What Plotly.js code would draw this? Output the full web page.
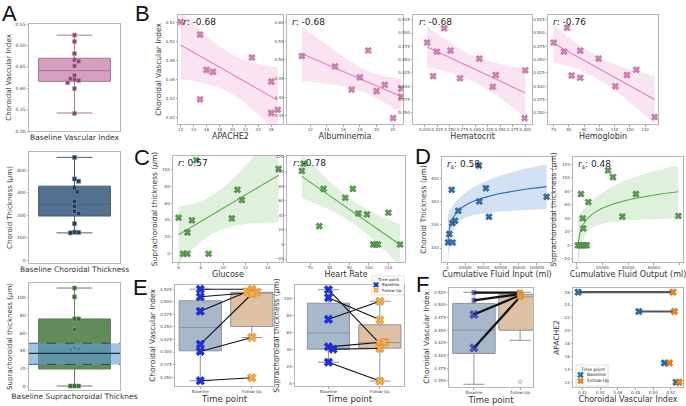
<!DOCTYPE html>
<html><head><meta charset="utf-8">
<script src="https://cdn.plot.ly/plotly-3.0.1.min.js"></script>
<style>html,body{margin:0;padding:0;background:#fff}#chart{width:686px;height:406px}</style>
</head><body><div id="chart"></div>
<script>
// ================= DATA =================
// Panel A
const cviBaseline = [0.524,0.509,0.481,0.466,0.463,0.452,0.430,0.420,0.418,0.422,0.413,0.399,0.341];
const cviBoxStats = [0.416,0.441,0.470,0.342,0.524];          // q1, median, q3, lower, upper
const choroidBaseline = [458,362,352,322,305,262,240,218,208,163,125,124,122];
const choroidBoxStats = [197,249,330,122,458];
const supraBaseline = [111,101,76,76,64,43,42,41,25,0,0,0];
const supraBoxStats = [19.3,40,76,0,111];
const supraRefBand = [24.5,37,48.5];                          // low, median, high
// Panel B
const apache = [12,15,16,17,15,23,26,26,27];
const cviApache = [0.5207,0.5073,0.470,0.468,0.439,0.483,0.4577,0.4246,0.428];
const albumin = [11,15,18,17,19,20,21,23,23,22];
const cviAlbumin = [0.510,0.482,0.453,0.420,0.525,0.416,0.433,0.423,0.401,0.344];
const hematocrit = [0.2047,0.2387,0.224,0.2513,0.2167,0.270,0.3087,0.3413,0.3353,0.400,0.3987];
const cviHematocrit = [0.482,0.509,0.465,0.467,0.419,0.415,0.452,0.421,0.399,0.430,0.340];
const hemoglobin = [70,78.8,76.8,87.5,81.8,87.5,99.5,110.5,118.1,124.3,136.3];
const cviHemoglobin = [0.482,0.510,0.465,0.467,0.420,0.416,0.452,0.400,0.421,0.431,0.342];
// Panel C
const glucose = [6.0,6.4,6.8,6.8,7.2,7.6,8.7,10.8,11.3,11.7,15.0];
const supraGlucose = [42.8,0,0,25.3,39.7,111,0,42,75.9,63.8,100.8];
const heartRate = [65.7,66.6,74.6,76.8,87.9,91.8,94.7,99,102.2,103.5,104.7,110,116];
const supraHeartRate = [100.9,110.8,25.2,76.2,64,76.2,42.5,41.2,0,0,0,43.6,0];
// Panel D
const fluidInput = [800,2200,4900,5600,6000,8600,12300,35400,35800,43200,46600,111000];
const choroidFluidIn = [124,160,350,207,124,217,260,454,300,357,234,320];
const fluidOutput = [800,2600,4400,6500,7800,3300,4700,5100,9000,24400,28200,35500,46100,79100];
const supraFluidOut = [0,0,0,0,0,76,40,25,64,111,101,42.5,76,43.5];
// Panel E
const eCviBase = [0.525,0.510,0.481,0.4155,0.4013,0.343];
const eCviFollow = [0.525,0.519,0.520,0.5155,0.429,0.349];
const eCviBoxQ1 = [0.4025,0.451], eCviBoxMed = [0.449,0.517], eCviBoxQ3 = [0.502,0.519];
const eCviBoxLo = [0.343,0.429], eCviBoxHi = [0.525,0.525];
const eSupraBase = [111,101.5,76,43.5,40.8,25.4];
const eSupraFollow = [47.3,75.4,97.3,49.2,41.5,3.1];
const eSupraBoxQ1 = [40.8,42], eSupraBoxMed = [60,48.5], eSupraBoxQ3 = [95,69.5];
const eSupraBoxLo = [25.4,3.1], eSupraBoxHi = [111,97.3];
// Panel F
const fCviBase = [0.5245,0.509,0.481,0.415];
const fCviFollow = [0.5245,0.5215,0.519,0.516];
const fCviBoxQ1 = [0.404,0.450], fCviBoxMed = [0.450,0.516], fCviBoxQ3 = [0.503,0.521];
const fCviBoxLo = [0.343,0.430], fCviBoxHi = [0.525,0.525];
const fCviOutlier = [0.348];
const fApache = [26,23,15,12];
const fApacheCviBase = [0.4151,0.4837,0.5125,0.5258];
const fApacheCviFollow = [0.5223,0.5239,0.5182,0.5292];
const timeLabels = ['Baseline','Follow-Up'];
const rLabels = ['<i>r</i>: -0.68','<i>r</i>: -0.68','<i>r</i>: -0.68','<i>r</i>: -0.76','<i>r</i>: 0.57','<i>r</i>: -0.78','<i>r</i><sub>s</sub>: 0.58','<i>r</i><sub>s</sub>: 0.48'];

// ================= LAYOUT HELPERS =================
const W=686,H=406, FONT='DejaVu Sans';
const boxes = {1:[29,24,120,131],2:[29,152,120,263],3:[29,283,120,390],
 4:[178,15,283,124],5:[287,15,403,124],6:[413,15,532,124],7:[548,15,658,124],
 8:[173,156,283,262],9:[287,156,405,262],10:[442,157,552,262],11:[573,157,683,262],
 12:[175,285,274,386],13:[295,285,404,386],14:[449,288,533,387],15:[573,288,683,387]};
const sfx = i => i===1?'':String(i);
const layout = {width:W,height:H,margin:{l:0,r:0,t:0,b:0},paper_bgcolor:'#fff',plot_bgcolor:'#fff',
  showlegend:false,font:{family:FONT,color:'#333'},annotations:[],shapes:[]};
function ttl(text,size,standoff){return {text:text,font:{family:FONT,size:size,color:'#333'},standoff:standoff};}
function setAxes(i,xo,yo){
  const b=boxes[i];
  const base={showline:true,mirror:true,linecolor:'#b5b5b5',linewidth:1,ticks:'outside',ticklen:1.5,
    tickwidth:0.6,tickcolor:'#666',showgrid:false,zeroline:false,fixedrange:true,tickangle:0,
    tickfont:{family:FONT,size:4,color:'#444'}};
  layout['xaxis'+sfx(i)]=Object.assign({},base,{domain:[b[0]/W,b[2]/W],anchor:'y'+sfx(i)},xo);
  layout['yaxis'+sfx(i)]=Object.assign({},base,{domain:[1-b[3]/H,1-b[1]/H],anchor:'x'+sfx(i)},yo);
}
function ax(i){return {xaxis:'x'+sfx(i),yaxis:'y'+sfx(i)};}
const traces=[];
function add(i,t){traces.push(Object.assign(t,ax(i),{hoverinfo:'skip'}));}

function tq(df){const t={3:3.182,4:2.776,5:2.571,6:2.447,7:2.365,8:2.306,9:2.262,10:2.228,11:2.201,12:2.179,13:2.16,14:2.145};return t[df]||2.1;}
function fit(xs,ys,logx){
  const X=xs.map(v=>logx?Math.log(v):v), n=xs.length;
  const mx=X.reduce((a,b)=>a+b,0)/n, my=ys.reduce((a,b)=>a+b,0)/n;
  let sxx=0,sxy=0; X.forEach((x,k)=>{sxx+=(x-mx)*(x-mx);sxy+=(x-mx)*(ys[k]-my);});
  const b=sxy/sxx,a=my-b*mx;
  let ss=0; X.forEach((x,k)=>{const r=ys[k]-a-b*x;ss+=r*r;});
  const s=Math.sqrt(ss/(n-2)), t=tq(n-2);
  const lo=Math.min(...X),hi=Math.max(...X), gx=[],yh=[],up=[],dn=[];
  for(let k=0;k<=80;k++){const x=lo+(hi-lo)*k/80;const y=a+b*x;
    const h=t*s*Math.sqrt(1/n+(x-mx)*(x-mx)/sxx);
    gx.push(logx?Math.exp(x):x);yh.push(y);up.push(y+h);dn.push(y-h);}
  return {gx,yh,up,dn};
}
function regPlot(i,xs,ys,logx,c){
  const f=fit(xs,ys,logx);
  add(i,{type:'scatter',mode:'lines',x:f.gx.concat(f.gx.slice().reverse()),y:f.up.concat(f.dn.slice().reverse()),
    fill:'toself',fillcolor:c.band,line:{width:0}});
  add(i,{type:'scatter',mode:'lines',x:f.gx,y:f.yh,line:{color:c.line,width:1.1}});
  add(i,{type:'scatter',mode:'markers',x:xs,y:ys,marker:{symbol:'x',size:5.8,color:c.mk,line:{color:c.mkl,width:0.6}}});
}
function swarm(vals,yr,hpx,xr,wpx,r){
  const sy=hpx/(yr[1]-yr[0]),sx=wpx/(xr[1]-xr[0]),placed=[],out=[];
  vals.forEach(v=>{const yp=v*sy;let xo=0;
    for(let t=0;t<60;t++){const c=t===0?0:((t%2?1:-1)*Math.ceil(t/2)*r*0.6);
      if(placed.every(p=>Math.hypot(p[0]-c,p[1]-yp)>=2*r*0.9)){xo=c;break;}}
    placed.push([xo,yp]);out.push(xo/sx);});
  return out;
}
function boxStat(i,pos,q1,med,q3,lo,hi,width,fill,line){
  add(i,{type:'box',orientation:'v',x:[pos],q1:[q1],median:[med],q3:[q3],lowerfence:[lo],upperfence:[hi],
    width:width,fillcolor:fill,line:{color:line,width:1},whiskerwidth:0.5,boxpoints:false});
}
function note(i,text,size){layout.annotations.push({xref:'x'+sfx(i)+' domain',yref:'y'+sfx(i)+' domain',x:0.03,y:1.0,
  xanchor:'left',yanchor:'top',text:text,showarrow:false,font:{family:FONT,size:size||9,color:'#222'}});}
function letter(t,x,y){layout.annotations.push({xref:'paper',yref:'paper',x:x/W,y:1-y/H,xanchor:'center',yanchor:'middle',
  text:t,showarrow:false,font:{family:'Liberation Sans',size:22,color:'#111'}});}
const range=(a,b,s)=>{const o=[];for(let v=a;v<=b+1e-9;v+=s)o.push(+v.toFixed(6));return o;};

// ================= PANEL A =================
const aRanges=[[0.30,0.55],[-12,482],[-4.5,116.7]];
const aCols=[{fill:'rgba(200,125,170,0.75)',line:'#a57a92',mk:'rgb(140,70,115)',mkl:'#d9a9c7'},
  {fill:'rgb(84,112,145)',line:'#46607a',mk:'rgb(35,58,92)',mkl:'#7f97b2'},
  {fill:'rgb(98,140,92)',line:'#5f7d5a',mk:'rgb(58,105,52)',mkl:'#97bb8f'}];
const aVals=[cviBaseline,choroidBaseline,supraBaseline],aStats=[cviBoxStats,choroidBoxStats,supraBoxStats];
const aX=['Baseline Vascular Index','Baseline Choroidal Thickness','Baseline Suprachoroidal Thicknes'];
const aY=['Choroidal Vascular Index','Choroid Thickness (<i>μ</i>m)','Suprachoroidal thickness (<i>μ</i>m)'];
const aTicks=[{tickvals:range(0.30,0.55,0.05),tickformat:'.2f'},{tickvals:range(0,400,100)},{tickvals:range(0,100,20)}];
for(let k=0;k<3;k++){
  const i=k+1,b=boxes[i],st=aStats[k],c=aCols[k];
  setAxes(i,{range:[-0.5,0.5],showticklabels:false,ticks:'',title:ttl(aX[k],7.5,3)},
    Object.assign({range:aRanges[k],title:ttl(aY[k],7,3),tickfont:{family:FONT,size:4.5,color:'#444'}},aTicks[k]));
  boxStat(i,0,st[0],st[1],st[2],st[3],st[4],0.79,c.fill,c.line);
  const offs=swarm(aVals[k],aRanges[k],b[3]-b[1],[-0.5,0.5],b[2]-b[0],2.3);
  add(i,{type:'scatter',mode:'markers',x:offs,y:aVals[k],marker:{symbol:'square',size:4.2,color:c.mk,line:{color:c.mkl,width:0.5}}});
}
// reference band on A3
layout.shapes.push({type:'rect',xref:'x3 domain',yref:'y3',x0:0,x1:1,y0:supraRefBand[0],y1:supraRefBand[2],
  fillcolor:'rgba(95,155,210,0.6)',line:{width:0},layer:'above'});
[0,2].forEach(j=>layout.shapes.push({type:'line',xref:'x3 domain',yref:'y3',x0:0,x1:1,y0:supraRefBand[j],y1:supraRefBand[j],
  line:{color:'#1d3557',width:0.8,dash:'dash'},layer:'above'}));
layout.shapes.push({type:'line',xref:'x3 domain',yref:'y3',x0:0,x1:1,y0:supraRefBand[1],y1:supraRefBand[1],
  line:{color:'#17304f',width:1.3},layer:'above'});

// ================= PANEL B =================
const pink={band:'rgba(238,165,212,0.3)',line:'rgb(224,128,188)',mk:'rgb(212,128,178)',mkl:'rgb(176,88,146)'};
const green={band:'rgba(150,210,140,0.3)',line:'rgb(92,172,82)',mk:'rgb(88,158,78)',mkl:'rgb(60,120,52)'};
const blue={band:'rgba(110,160,215,0.3)',line:'rgb(40,112,182)',mk:'rgb(50,110,175)',mkl:'rgb(30,75,130)'};
setAxes(4,{range:[11.6,27.8],tickvals:range(12,26,2),title:ttl('APACHE2',8,1)},
  {range:[0.413,0.528],tickvals:range(0.42,0.52,0.02),tickformat:'.2f',title:ttl('Choroidal Vascular Index',7.5,3)});
setAxes(5,{range:[9.2,23.2],tickvals:range(12,22,2),title:ttl('Albuminemia',8,1)},
  {range:[0.328,0.62],tickvals:range(0.35,0.60,0.05),tickformat:'.2f'});
setAxes(6,{range:[0.1767,0.4133],tickvals:range(0.2,0.4,0.025),tickformat:'.3f',title:ttl('Hematocrit',8,1)},
  {range:[0.329,0.534],tickvals:range(0.35,0.525,0.025),tickformat:'.3f'});
setAxes(7,{range:[66.3,138.5],tickvals:range(70,130,10),title:ttl('Hemoglobin',8,1)},
  {range:[0.329,0.534],tickvals:range(0.35,0.525,0.025),tickformat:'.3f'});
regPlot(4,apache,cviApache,false,pink);
regPlot(5,albumin,cviAlbumin,false,pink);
regPlot(6,hematocrit,cviHematocrit,false,pink);
regPlot(7,hemoglobin,cviHemoglobin,false,pink);
[4,5,6,7].forEach((i,k)=>note(i,rLabels[k]));

// ================= PANEL C =================
setAxes(8,{range:[5.5,15.4],tickvals:range(6,14,2),title:ttl('Glucose',8,1)},
  {range:[-9.7,116],tickvals:range(0,100,20),title:ttl('Suprachoroidal thickness (<i>μ</i>m)',7.5,3)});
setAxes(9,{range:[58.1,118.5],tickvals:range(70,110,10),title:ttl('Heart Rate',8,1)},
  {range:[-24,121.3],tickvals:range(-20,120,20)});
regPlot(8,glucose,supraGlucose,false,green);
regPlot(9,heartRate,supraHeartRate,false,green);
note(8,rLabels[4]);note(9,rLabels[5]);

// ================= PANEL D =================
setAxes(10,{range:[-5900,117000],tickvals:range(0,100000,20000),tickformat:'d',title:ttl('Cumulative Fluid Input (ml)',8,1)},
  {range:[40,491],tickvals:range(100,400,100),title:ttl('Choroid Thickness (<i>μ</i>m)',7.5,3)});
setAxes(11,{range:[-2900,82700],tickvals:range(0,80000,20000),tickformat:'d',title:ttl('Cumulative Fluid Output (ml)',8,1)},
  {range:[-24.7,130.8],tickvals:range(-20,120,20),title:ttl('Suprachoroidal thickness (<i>μ</i>m)',7.5,3)});
regPlot(10,fluidInput,choroidFluidIn,true,blue);
regPlot(11,fluidOutput,supraFluidOut,true,green);
note(10,rLabels[6]);note(11,rLabels[7]);

// ================= PANEL E / F (paired) =================
const baseFill='rgb(166,184,202)',follFill='rgb(222,193,164)',boxLine='#8c939a';
const mkBase={symbol:'x',size:7.5,color:'rgb(28,48,232)',line:{color:'rgb(15,25,150)',width:0.6}};
const mkFoll={symbol:'x',size:7.5,color:'rgb(246,172,64)',line:{color:'rgb(200,120,35)',width:0.6}};
function paired(i,base,foll,bx,fx,lw,lc,mb,mf){
  const lx=[],ly=[];
  base.forEach((v,k)=>{lx.push(bx[k],fx[k],null);ly.push(v,foll[k],null);});
  add(i,{type:'scatter',mode:'lines',x:lx,y:ly,line:{color:lc,width:lw}});
  add(i,{type:'scatter',mode:'markers',x:bx,y:base,marker:mb});
  add(i,{type:'scatter',mode:'markers',x:fx,y:foll,marker:mf});
}
const catX={tickvals:[0,1],ticktext:timeLabels,tickfont:{family:FONT,size:4,color:'#444'}};
// E1
const e1xr=[-0.49,1.43],e1yr=[0.3325,0.5334];
setAxes(12,Object.assign({range:e1xr,title:ttl('Time point',8.5,1)},catX),
  {range:e1yr,tickvals:range(0.35,0.525,0.025),tickformat:'.3f',title:ttl('Choroidal Vascular Index',7.5,3)});
for(let k=0;k<2;k++)boxStat(12,k,eCviBoxQ1[k],eCviBoxMed[k],eCviBoxQ3[k],eCviBoxLo[k],eCviBoxHi[k],0.82,k?follFill:baseFill,boxLine);
{const b=boxes[12];const off=swarm(eCviFollow,e1yr,b[3]-b[1],e1xr,b[2]-b[0],2.6);
 paired(12,eCviBase,eCviFollow,eCviBase.map(()=>0),off.map(o=>1+o),1.1,'#111',mkBase,mkFoll);}
// E2
const e2xr=[-0.65,1.47],e2yr=[-2.7,116.5];
setAxes(13,Object.assign({range:e2xr,title:ttl('Time point',8.5,1)},catX),
  {range:e2yr,tickvals:range(0,100,20),title:ttl('Suprachoroidal thickness (<i>μ</i>m)',7.5,3)});
for(let k=0;k<2;k++)boxStat(13,k,eSupraBoxQ1[k],eSupraBoxMed[k],eSupraBoxQ3[k],eSupraBoxLo[k],eSupraBoxHi[k],0.82,k?follFill:baseFill,boxLine);
{const b=boxes[13];const offB=swarm(eSupraBase,e2yr,b[3]-b[1],e2xr,b[2]-b[0],2.6);
 const offF=swarm(eSupraFollow,e2yr,b[3]-b[1],e2xr,b[2]-b[0],2.6);
 paired(13,eSupraBase,eSupraFollow,offB,offF.map(o=>1+o),1.1,'#111',mkBase,mkFoll);}
// F1
setAxes(14,Object.assign({range:[-0.54,1.28],title:ttl('Time point',8.5,1)},catX),
  {range:[0.3376,0.5335],tickvals:range(0.35,0.525,0.025),tickformat:'.3f',title:ttl('Choroidal Vascular Index',7.5,3)});
for(let k=0;k<2;k++)boxStat(14,k,fCviBoxQ1[k],fCviBoxMed[k],fCviBoxQ3[k],fCviBoxLo[k],fCviBoxHi[k],0.92,k?follFill:baseFill,boxLine);
add(14,{type:'scatter',mode:'markers',x:fCviOutlier.map(()=>1),y:fCviOutlier,marker:{symbol:'circle-open',size:3.5,color:'#888',line:{width:0.6}}});
const fBaseSizes=[4.5,4.5,7.5,7.5];
paired(14,fCviBase,fCviFollow,fCviBase.map(()=>0),fCviFollow.map(()=>1),2.2,'#111',
  {symbol:'x',size:fBaseSizes,color:'rgb(30,45,170)',line:{color:'rgb(15,25,110)',width:0.6}},
  {symbol:'x',size:5.5,color:'rgb(240,165,60)',line:{color:'rgb(190,115,30)',width:0.6}});
// F2
setAxes(15,{range:[0.4094,0.5336],tickvals:range(0.42,0.52,0.02),tickformat:'.2f',title:ttl('Choroidal Vascular Index',8,1)},
  {range:[11.27,26.65],tickvals:range(12,26,2),title:ttl('APACHE2',7.5,3)});
{const lx=[],ly=[];fApache.forEach((a,k)=>{lx.push(fApacheCviBase[k],fApacheCviFollow[k],null);ly.push(a,a,null);});
 add(15,{type:'scatter',mode:'lines',x:lx,y:ly,line:{color:'#555',width:2.2}});
 add(15,{type:'scatter',mode:'markers',x:fApacheCviBase,y:fApache,marker:{symbol:'x',size:6,color:'#1f77b4',line:{color:'#0d3d66',width:0.6}}});
 add(15,{type:'scatter',mode:'markers',x:fApacheCviFollow,y:fApache,marker:{symbol:'x',size:6,color:'#ff7f0e',line:{color:'#a64f05',width:0.6}}});}

// ================= manual legends =================
function legendBox(x0,y0,x1,y1,fs,rows){
  layout.shapes.push({type:'rect',xref:'paper',yref:'paper',x0:x0/W,x1:x1/W,y0:1-y1/H,y1:1-y0/H,
    fillcolor:'rgba(255,255,255,0.85)',line:{color:'#ccc',width:0.6},layer:'above'});
  layout.annotations.push({xref:'paper',yref:'paper',x:(x0+x1)/2/W,y:1-(y0+fs*0.9)/H,xanchor:'center',yanchor:'middle',
    text:'Time point',showarrow:false,font:{family:FONT,size:fs,color:'#222'}});
  rows.forEach((r,k)=>{const cy=y0+fs*(2.2+k*1.35),cx=x0+fs*1.0,s=fs*0.55;
    layout.shapes.push({type:'path',xref:'paper',yref:'paper',layer:'above',
      path:`M ${(cx-s)/W} ${1-(cy-s)/H} L ${(cx+s)/W} ${1-(cy+s)/H} M ${(cx-s)/W} ${1-(cy+s)/H} L ${(cx+s)/W} ${1-(cy-s)/H}`,
      line:{color:r.c,width:fs*0.55}});
    layout.annotations.push({xref:'paper',yref:'paper',x:(cx+s+2)/W,y:1-cy/H,xanchor:'left',yanchor:'middle',
      text:r.t,showarrow:false,font:{family:FONT,size:fs,color:'#222'}});});
}
legendBox(372,276,404,295,4,[{c:'rgb(28,48,232)',t:timeLabels[0]},{c:'rgb(246,172,64)',t:timeLabels[1]}]);
legendBox(576,365,608,386,4.5,[{c:'#1f77b4',t:timeLabels[0]},{c:'#ff7f0e',t:timeLabels[1]}]);

// ================= panel letters =================
letter('A',9,13);letter('B',142,13);letter('C',142,157);letter('D',423,156);letter('E',140,287);letter('F',422,284);

Plotly.newPlot('chart',traces,layout,{staticPlot:true,displayModeBar:false});
</script></body></html>
